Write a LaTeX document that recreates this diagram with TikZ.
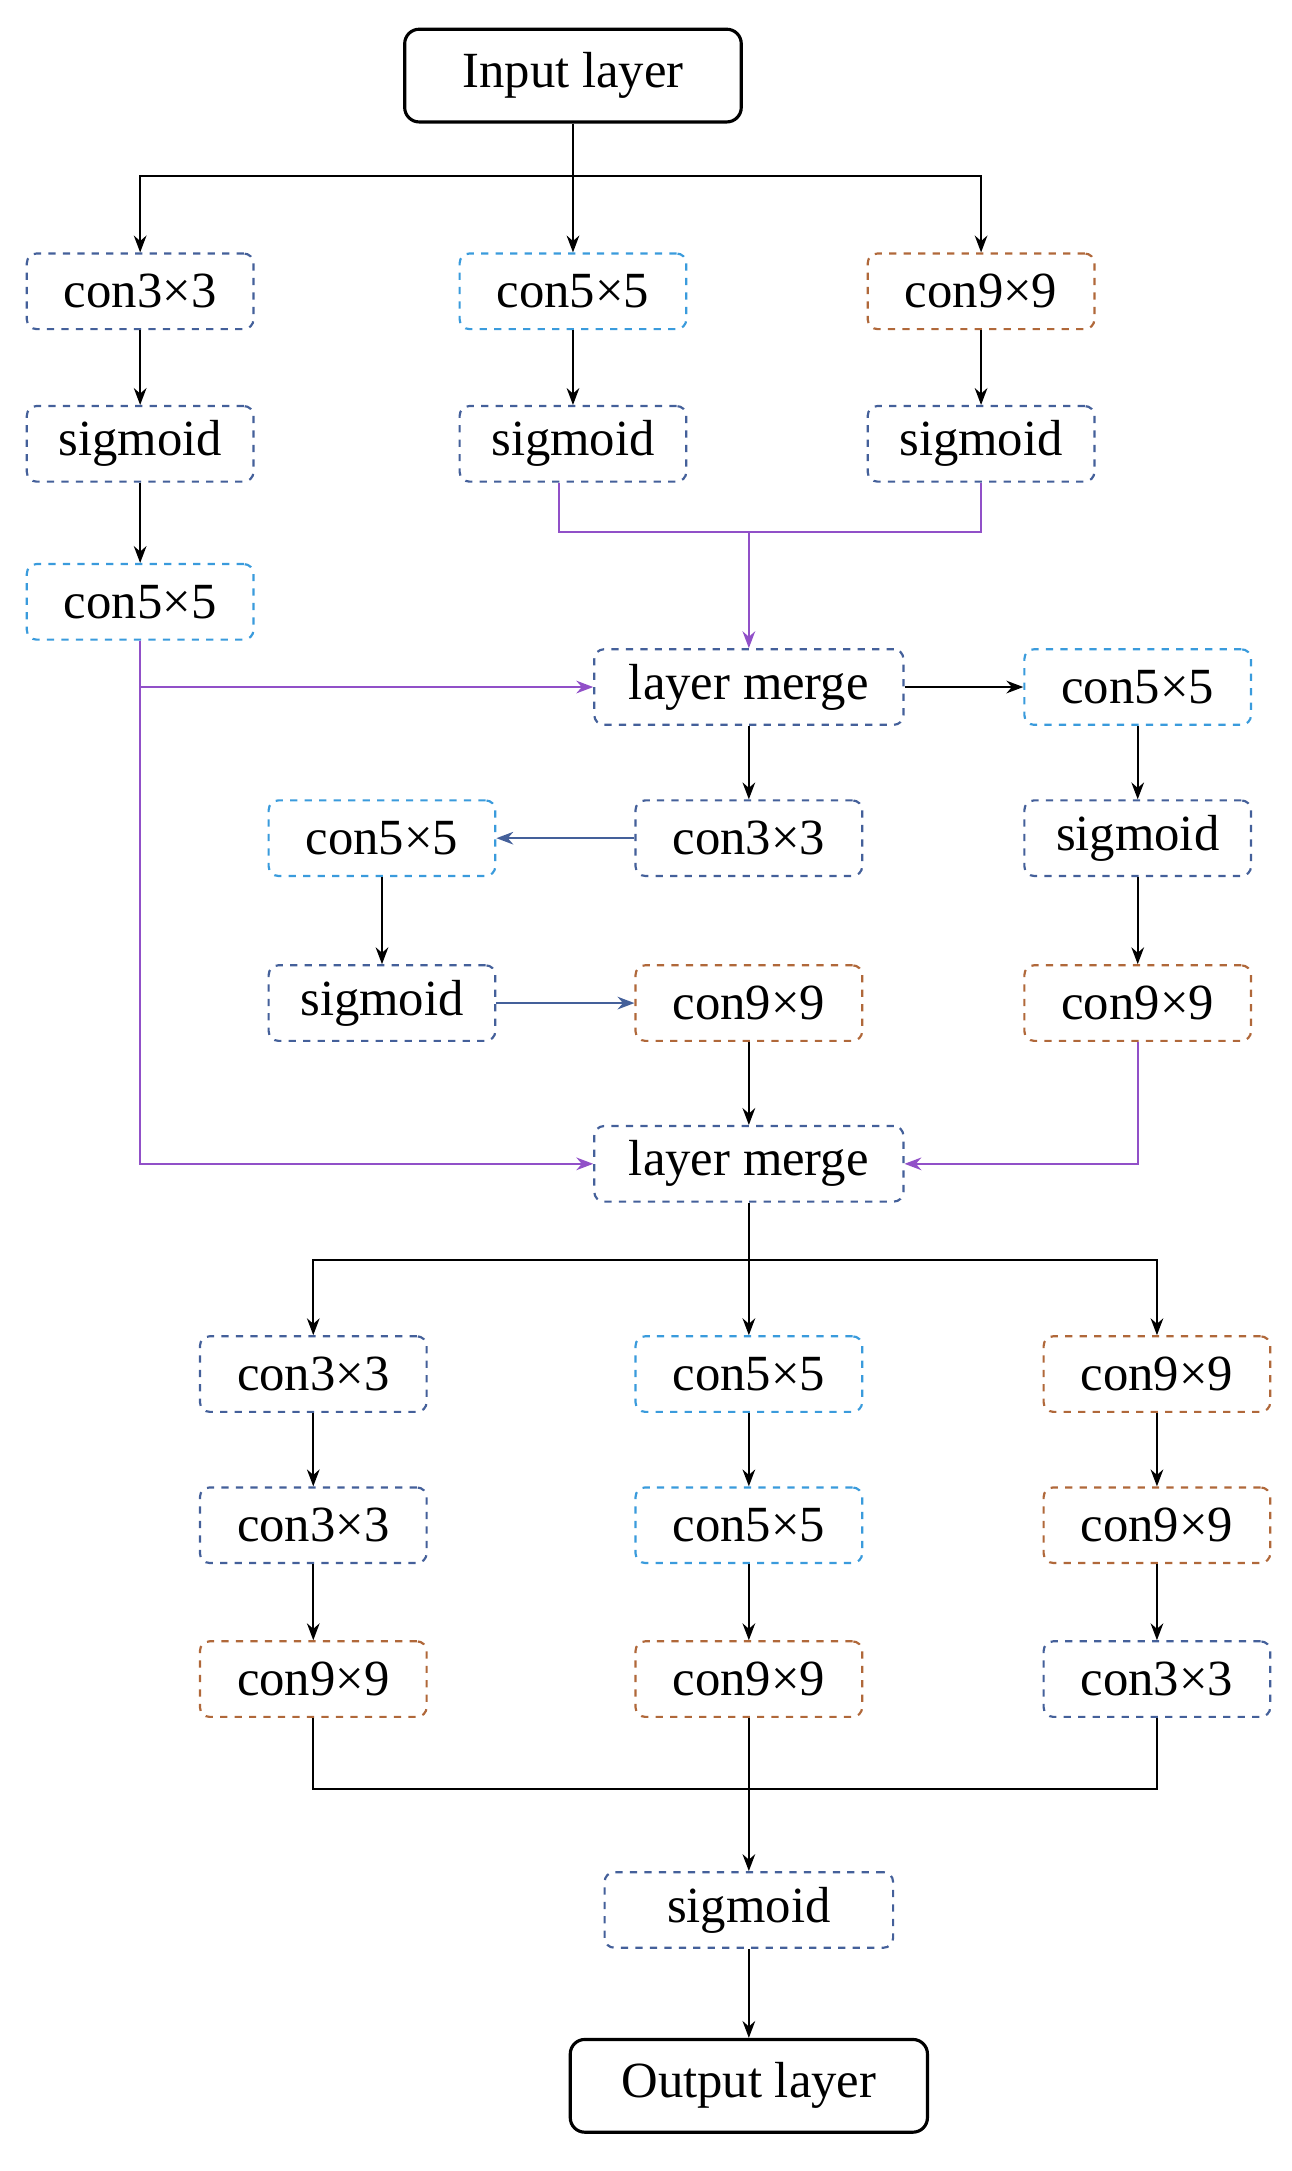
\documentclass[tikz,border=0pt]{standalone}
\usepackage{fontspec}
\setmainfont{Liberation Serif}
\usetikzlibrary{calc, arrows.meta}
\definecolor{cblue}{HTML}{3A9BDC}
\definecolor{cdark}{HTML}{44609A}
\definecolor{cbrown}{HTML}{B0683A}
\definecolor{cpurple}{HTML}{9150C8}
\begin{document}
\begin{tikzpicture}[x=0.02cm,y=-0.02cm,
	font=\fontsize{21}{25}\selectfont,
	box/.style={draw, dashed, line width=0.9pt, rounded corners=4pt, minimum width=3.3cm, minimum height=1.1cm, inner sep=1pt},
	bl/.style={box, draw=cblue},
	dk/.style={box, draw=cdark},
	br/.style={box, draw=cbrown},
	mg/.style={box, draw=cdark, minimum width=4.5cm},
	io/.style={draw=black, line width=1.3pt, rounded corners=6pt, minimum height=1.35cm},
	ar/.style={-{Stealth[length=7pt]}, line width=0.8pt},
	pa/.style={ar, draw=cpurple},
	]
	\useasboundingbox (0,0) rectangle (940,1580);
	% input and first branch
	\node[io, minimum width=4.9cm] (in) at (417,55) {Input layer};
	\node[dk] (a1) at (102,212) {con3×3};
	\node[bl] (b1) at (417,212) {con5×5};
	\node[br] (c1) at (714,212) {con9×9};
	\node[dk] (a2) at (102,323) {sigmoid};
	\node[dk] (b2) at (417,323) {sigmoid};
	\node[dk] (c2) at (714,323) {sigmoid};
	\node[bl] (a3) at (102,438) {con5×5};
	\coordinate (s1) at (417,128);
	\draw[ar] (in) -- (b1);
	\draw[ar] (s1) -| (a1);
	\draw[ar] (s1) -| (c1);
	\draw[ar] (a1) -- (a2);
	\draw[ar] (a2) -- (a3);
	\draw[ar] (b1) -- (b2);
	\draw[ar] (c1) -- (c2);

	% middle part
	\node[mg] (m1) at (545,500) {layer merge};
	\node[bl] (r1) at (828,500) {con5×5};
	\node[dk] (r2) at (828,610) {sigmoid};
	\node[br] (r3) at (828,730) {con9×9};
	\node[dk] (k1) at (545,610) {con3×3};
	\node[bl] (l1) at (278,610) {con5×5};
	\node[dk] (l2) at (278,730) {sigmoid};
	\node[br] (k2) at (545,730) {con9×9};
	\node[mg] (m2) at (545,847) {layer merge};
	\coordinate (j1) at (545,387);
	\draw[cpurple, line width=0.8pt] (b2.south -| 407,0) |- (j1) -| (c2.south);
	\draw[pa] (j1) -- (m1);
	\draw[pa] (a3.south) |- (m1.west);
	\draw[pa] (a3.south) |- (m2.west);
	\draw[pa] (r3.south) |- (m2.east);
	\draw[ar] (m1) -- (r1);
	\draw[ar] (r1) -- (r2);
	\draw[ar] (r2) -- (r3);
	\draw[ar] (m1) -- (k1);
	\draw[ar, draw=cdark] (k1) -- (l1);
	\draw[ar] (l1) -- (l2);
	\draw[ar, draw=cdark] (l2) -- (k2);
	\draw[ar] (k2) -- (m2);

	% second branch
	\node[dk] (d1) at (228,1000) {con3×3};
	\node[dk] (d2) at (228,1110) {con3×3};
	\node[br] (d3) at (228,1222) {con9×9};
	\node[bl] (e1) at (545,1000) {con5×5};
	\node[bl] (e2) at (545,1110) {con5×5};
	\node[br] (e3) at (545,1222) {con9×9};
	\node[br] (f1) at (842,1000) {con9×9};
	\node[br] (f2) at (842,1110) {con9×9};
	\node[dk] (f3) at (842,1222) {con3×3};
	\node[dk, minimum width=4.2cm] (sg) at (545,1390) {sigmoid};
	\node[io, minimum width=5.2cm] (out) at (545,1518) {Output layer};
	\coordinate (s2) at (545,917);
	\coordinate (j2) at (545,1302);
	\draw[ar] (m2) -- (e1);
	\draw[ar] (s2) -| (d1);
	\draw[ar] (s2) -| (f1);
	\draw[ar] (d1) -- (d2);
	\draw[ar] (d2) -- (d3);
	\draw[ar] (e1) -- (e2);
	\draw[ar] (e2) -- (e3);
	\draw[ar] (f1) -- (f2);
	\draw[ar] (f2) -- (f3);
	\draw[line width=0.8pt] (d3.south) |- (j2) -| (f3.south);
	\draw[ar] (e3) -- (sg);
	\draw[ar] (sg) -- (out);
\end{tikzpicture}
\end{document}
